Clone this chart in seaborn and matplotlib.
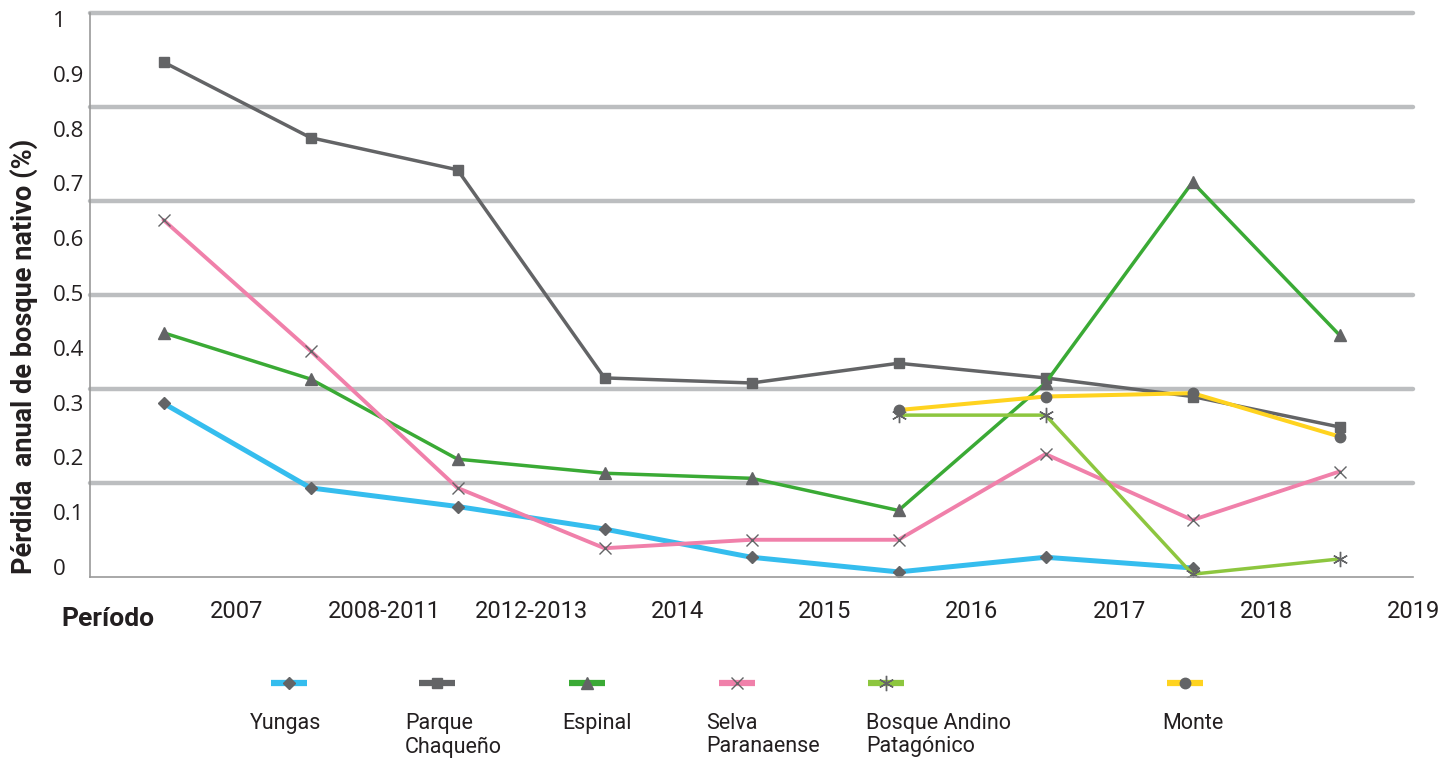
import numpy as np
import pandas as pd
import matplotlib.pyplot as plt
import seaborn as sns

# Data
periodos = ['2007', '2008-2011', '2012-2013', '2014', '2015', '2016', '2017', '2018', '2019']
yungas = [0.308, 0.158, 0.125, 0.085, 0.035, 0.009, 0.035, 0.016, np.nan]
parque_chaqueno = [0.913, 0.779, 0.722, 0.353, 0.344, 0.379, 0.353, 0.320, 0.266]
espinal = [0.433, 0.351, 0.209, 0.184, 0.175, 0.118, 0.344, 0.700, 0.429]
selva_paranaense = [0.633, 0.401, 0.158, 0.051, 0.066, 0.066, 0.218, 0.101, 0.187]
bosque_andino = [np.nan, np.nan, np.nan, np.nan, np.nan, 0.287, 0.287, 0.005, 0.032]
monte = [np.nan, np.nan, np.nan, np.nan, np.nan, 0.296, 0.320, 0.326, 0.249]

series_names = ['Yungas', 'Parque\nChaqueño', 'Espinal', 'Selva\nParanaense',
                'Bosque Andino\nPatagónico', 'Monte']
series_values = [yungas, parque_chaqueno, espinal, selva_paranaense, bosque_andino, monte]

ytick_values = [0, 0.1, 0.2, 0.3, 0.4, 0.5, 0.6, 0.7, 0.8, 0.9, 1]
ytick_labels = ['0', '0.1', '0.2', '0.3', '0.4', '0.5', '0.6', '0.7', '0.8', '0.9', '1']

# styles
colors = ['#35bdee', '#636466', '#3aaa35', '#f080aa', '#8dc63f', '#ffd31f']
markers = ['D', 's', '^', 'x', (6, 2, 0), 'o']
msizes = [6, 7.5, 8, 9, 11, 7.5]
lwidths = [3.6, 2.5, 2.5, 2.8, 2.5, 2.9]
marker_gray = '#636466'
text_color = '#231f20'

sns.set_style('white')
plt.rcParams['font.family'] = ['Roboto', 'DejaVu Sans']

fig = plt.figure(figsize=(14.56, 7.58), dpi=100)
ax = fig.add_axes([90 / 1456, 1 - 577 / 758, (1413 - 90) / 1456, (577 - 13) / 758])

x_idx = np.arange(len(periodos))
for name, vals, c, m, ms, lw in zip(series_names, series_values, colors, markers, msizes, lwidths):
    df = pd.DataFrame({'x': x_idx, 'y': vals}).dropna()
    sns.lineplot(data=df, x='x', y='y', ax=ax, color=c, linewidth=lw,
                 marker=m, markersize=ms, markerfacecolor=marker_gray,
                 markeredgecolor=marker_gray, markeredgewidth=1.0)

ax.set_xlim(-0.5, len(periodos) - 0.5)
ax.set_ylim(0, 1)

# x axis: labels sit on the right edge of each period
ax.set_xticks(np.arange(-0.5, len(periodos), 1), [''] + periodos)
ax.tick_params(axis='x', length=4.5, width=1, color='#999999', pad=12,
               labelsize=17, labelcolor=text_color)

# y axis: gridlines every 1/6, labels every 0.1 (offset like the original)
ax.set_yticks([k / 6 for k in range(0, 7)], [''] * 7)
ax.tick_params(axis='y', which='major', length=3, width=1, color='#999999')
label_pos = [0.018 + 0.971 * v for v in ytick_values]
ax.set_yticks(label_pos, ytick_labels, minor=True)
ax.tick_params(axis='y', which='minor', length=0, pad=26.5, labelsize=16,
               labelcolor=text_color)
for lbl in ax.get_yticklabels(minor=True):
    lbl.set_ha('left')
    lbl.set_fontfamily(['Open Sans', 'DejaVu Sans'])

ax.yaxis.grid(True, which='major', color='#bcbec0', linewidth=3.2)
ax.xaxis.grid(False)
for gl in ax.get_ygridlines():
    gl.set_clip_on(False)
ax.get_ygridlines()[0].set_visible(False)

for s in ['top', 'right']:
    ax.spines[s].set_visible(False)
for s in ['left', 'bottom']:
    ax.spines[s].set_color('#999999')
    ax.spines[s].set_linewidth(1.2)
ax.set_xlabel('')
ax.set_ylabel('')

fig.text(24 / 1456, 1 - 356 / 758, 'Pérdida  anual de bosque nativo (%)', rotation=90,
         ha='center', va='center', fontsize=19.5, fontweight='bold', color=text_color)
fig.text(108 / 1456, 1 - 619 / 758, 'Período', ha='center', va='center',
         fontsize=19, fontweight='bold', color=text_color)

# legend drawn below the chart: glyph on top, label underneath
leg = fig.add_axes([0, 0, 1, 1])
leg.set_xlim(0, 1456)
leg.set_ylim(758, 0)
leg.axis('off')
glyph_x = [289, 437, 587, 737, 886, 1185]
label_x = [250, 405, 562, 706, 866, 1162]
for gx, lx, name, c, m, ms in zip(glyph_x, label_x, series_names, colors, markers, msizes):
    leg.plot([gx - 18, gx + 18], [683, 683], color=c, linewidth=4.5, solid_capstyle='butt')
    leg.plot([gx], [683], marker=m, markersize=ms, color=marker_gray,
             markeredgecolor=marker_gray, markeredgewidth=1.0)
    leg.text(lx, 713, name, ha='left', va='top', fontsize=15.5, color=text_color,
             linespacing=1.15)

fig.savefig('out.png', dpi=100)
